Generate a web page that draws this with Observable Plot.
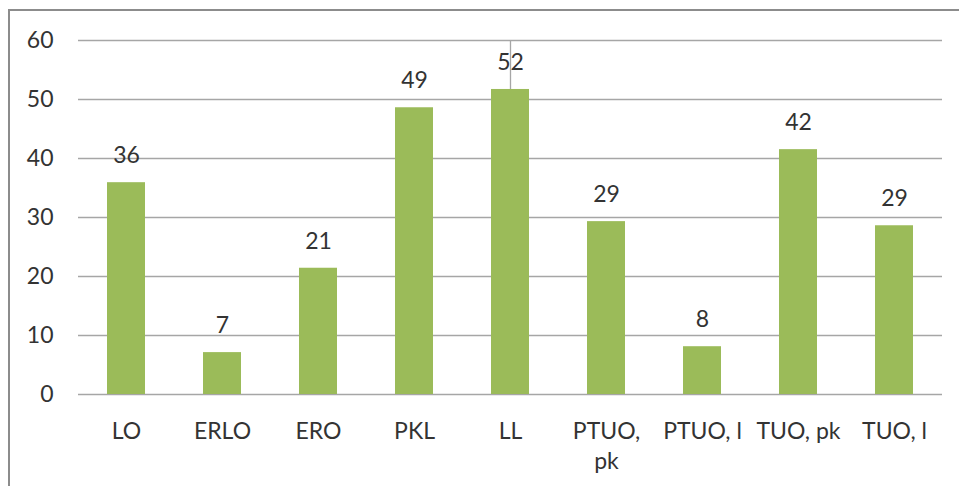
<!DOCTYPE html>
<html>
<head>
<meta charset="utf-8">
<script src="https://cdn.jsdelivr.net/npm/d3@7"></script>
<script src="https://cdn.jsdelivr.net/npm/@observablehq/plot@0.6"></script>
<style>
  html, body { margin: 0; padding: 0; background: #fff; }
  #wrap { position: relative; width: 959px; height: 486px; overflow: hidden; }
  #frame { position: absolute; left: 8px; top: 9px; width: 1000px; height: 600px;
           border-left: 2px solid #8c8c8c; border-top: 2px solid #8c8c8c; }
  #chart { position: absolute; left: 0; top: 0; }
</style>
</head>
<body>
<div id="wrap"><div id="frame"></div><div id="chart"></div></div>
<script>
const categories = ["LO", "ERLO", "ERO", "PKL", "LL", "PTUO,\npk", "PTUO, l", "TUO, pk", "TUO, l"];
const values = [35.9, 7.1, 21.4, 48.6, 51.7, 29.3, 8.1, 41.5, 28.6];
const yTicks = [0, 10, 20, 30, 40, 50, 60];

const data = categories.map((c, i) => ({category: c, value: values[i]}));
const font = "Lato, 'Open Sans', sans-serif";
const textColor = "#333333";

const chart = Plot.plot({
  width: 959,
  height: 486,
  marginLeft: 78,
  marginTop: 40,
  marginRight: 17,
  marginBottom: 92,
  style: {fontFamily: font, fontSize: "23px", color: textColor, background: "transparent"},
  x: {domain: categories, paddingInner: 0.6, paddingOuter: 0.3, label: null},
  y: {domain: [0, 60], label: null},
  marks: [
    Plot.gridY(yTicks, {stroke: "#a6a6a6", strokeOpacity: 1, strokeWidth: 1.3}),
    Plot.ruleX([0], {frameAnchor: "left", x: null, y1: 0, y2: 60, stroke: "#a6a6a6", strokeWidth: 1.3}),
    Plot.barY(data, {x: "category", y: "value", fill: "#9bbb59"}),
    Plot.text(data, {x: "category", y: "value", text: d => String(Math.round(d.value)),
      dy: -27, lineAnchor: "middle", fill: textColor, fontSize: 23}),
    Plot.axisY(yTicks, {tickSize: 0, tickPadding: 25, fontSize: 23, fill: textColor}),
    Plot.axisX({tickSize: 0, tickPadding: 23, fontSize: 23, lineHeight: 1.3, fill: textColor})
  ]
});
document.getElementById("chart").appendChild(chart);
</script>
</body>
</html>
